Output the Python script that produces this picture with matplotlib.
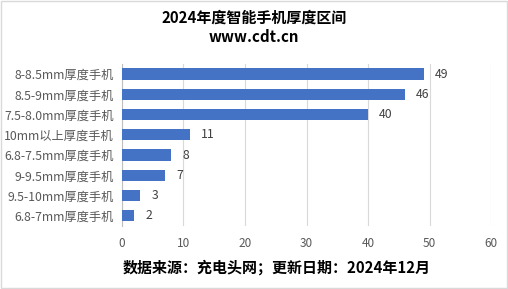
import matplotlib.pyplot as plt
from matplotlib.patches import Rectangle

plt.rcParams['font.family'] = ['Noto Sans CJK SC', 'DejaVu Sans']

# 数据（从上到下）
categories = ['8-8.5mm厚度手机', '8.5-9mm厚度手机', '7.5-8.0mm厚度手机', '10mm以上厚度手机',
              '6.8-7.5mm厚度手机', '9-9.5mm厚度手机', '9.5-10mm厚度手机', '6.8-7mm厚度手机']
counts = [49, 46, 40, 11, 8, 7, 3, 2]

bar_color = '#4472C4'
text_color = '#595959'

fig = plt.figure(figsize=(5.08, 2.89), dpi=100)
ax = fig.add_axes([0.240, 0.218, 0.727, 0.561])

y = list(range(len(categories)))
bars = ax.barh(y, counts, height=0.55, color=bar_color, zorder=3)
ax.set_ylim(len(categories) - 0.5, -0.5)
ax.set_xlim(0, 60)
ax.set_xticks(range(0, 61, 10))
ax.set_yticks(y)
ax.set_yticklabels(categories, fontsize=8.8, color=text_color)
ax.tick_params(axis='x', length=0, labelsize=8.5, labelcolor=text_color, pad=8)
ax.tick_params(axis='y', length=0, pad=6)

# 数值标签
for rect, v in zip(bars, counts):
    ax.annotate(str(v), xy=(rect.get_width(), rect.get_y() + rect.get_height() / 2),
                xytext=(8, 0), textcoords='offset points', ha='left', va='center',
                fontsize=8.8, color='#404040')

ax.grid(axis='x', color='#d9d9d9', linewidth=0.8, zorder=0)
for s in ['top', 'right', 'bottom']:
    ax.spines[s].set_visible(False)
ax.spines['left'].set_color('#bfbfbf')
ax.spines['left'].set_linewidth(0.8)

fig.text(0.5, 0.94, '2024年度智能手机厚度区间', ha='center', va='center',
         fontsize=10.8, fontweight='bold', color='black')
fig.text(0.5, 0.872, 'www.cdt.cn', ha='center', va='center',
         fontsize=10.8, fontweight='bold', color='black')
fig.text(0.242, 0.073, '数据来源：充电头网；更新日期：2024年12月', ha='left', va='center',
         fontsize=10.8, fontweight='bold', color='black')

# 外框
fig.patches.append(Rectangle((0.002, 0.003), 0.996, 0.994, transform=fig.transFigure,
                             fill=False, edgecolor='#d9d9d9', linewidth=1))

fig.savefig('out.png', dpi=100)
